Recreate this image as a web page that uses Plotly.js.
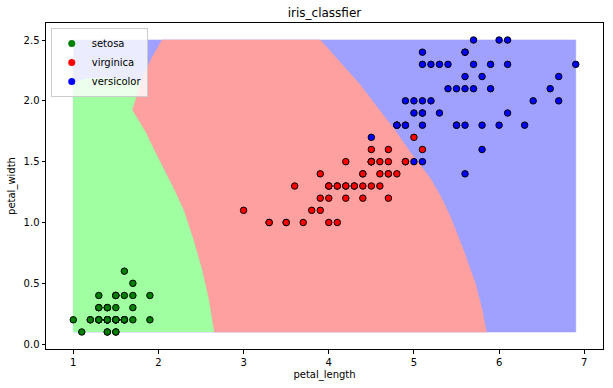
<!DOCTYPE html>
<html>
<head>
<meta charset="utf-8">
<script src="https://cdn.plot.ly/plotly-3.0.1.min.js"></script>
<style>html,body{margin:0;padding:0;background:#fff;}#chart{width:613px;height:388px;}</style>
</head>
<body>
<div id="chart"></div>
<script>
// ---- scatter data (petal_length, petal_width) ----
const setosaX = [1.4,1.4,1.3,1.5,1.4,1.7,1.4,1.5,1.4,1.5,1.5,1.6,1.4,1.1,1.2,1.5,1.3,1.4,1.7,1.5,1.7,1.5,1.0,1.7,1.9,1.6,1.6,1.5,1.4,1.6,1.6,1.5,1.5,1.4,1.5,1.2,1.3,1.4,1.3,1.5,1.3,1.3,1.3,1.6,1.9,1.4,1.6,1.4,1.5,1.4];
const setosaY = [0.2,0.2,0.2,0.2,0.2,0.4,0.3,0.2,0.2,0.1,0.2,0.2,0.1,0.1,0.2,0.4,0.4,0.3,0.3,0.3,0.2,0.4,0.2,0.5,0.2,0.2,0.4,0.2,0.2,0.2,0.2,0.4,0.1,0.2,0.2,0.2,0.2,0.1,0.2,0.2,0.3,0.3,0.2,0.6,0.4,0.3,0.2,0.2,0.2,0.2];
const virginicaX = [4.7,4.5,4.9,4.0,4.6,4.5,4.7,3.3,4.6,3.9,3.5,4.2,4.0,4.7,3.6,4.4,4.5,4.1,4.5,3.9,4.8,4.0,4.9,4.7,4.3,4.4,4.8,5.0,4.5,3.5,3.8,3.7,3.9,5.1,4.5,4.5,4.7,4.4,4.1,4.0,4.4,4.6,4.0,3.3,4.2,4.2,4.2,4.3,3.0,4.1];
const virginicaY = [1.4,1.5,1.5,1.3,1.5,1.3,1.6,1.0,1.3,1.4,1.0,1.5,1.0,1.4,1.3,1.4,1.5,1.0,1.5,1.1,1.8,1.3,1.5,1.2,1.3,1.4,1.4,1.7,1.5,1.0,1.1,1.0,1.2,1.6,1.5,1.6,1.5,1.3,1.3,1.3,1.2,1.4,1.2,1.0,1.3,1.2,1.3,1.3,1.1,1.3];
const versicolorX = [6.0,5.1,5.9,5.6,5.8,6.6,4.5,6.3,5.8,6.1,5.1,5.3,5.5,5.0,5.1,5.3,5.5,6.7,6.9,5.0,5.7,4.9,6.7,4.9,5.7,6.0,4.8,4.9,5.6,5.8,6.1,6.4,5.6,5.1,5.6,6.1,5.6,5.5,4.8,5.4,5.6,5.1,5.1,5.9,5.7,5.2,5.0,5.2,5.4,5.1];
const versicolorY = [2.5,1.9,2.1,1.8,2.2,2.1,1.7,1.8,1.8,2.5,2.0,1.9,2.1,2.0,2.4,2.3,1.8,2.2,2.3,1.5,2.3,2.0,2.0,1.8,2.1,1.8,1.8,1.8,2.1,1.6,1.9,2.0,2.2,1.5,1.4,2.3,2.4,1.8,1.8,2.1,2.4,2.3,1.9,2.3,2.5,2.3,1.9,2.0,2.3,1.8];

// ---- decision regions ----
const blueRegionX = [1.0, 6.9, 6.9, 1.0];
const blueRegionY = [0.1, 0.1, 2.5, 2.5];
const redRegionX = [2.04, 3.90, 4.13, 4.37, 4.565, 4.76, 4.955, 5.19, 5.31, 5.425, 5.58, 5.72, 5.80, 5.85, 2.65, 2.59, 2.51, 2.41, 2.295, 2.185, 2.08, 1.96, 1.845, 1.69, 1.79, 1.845, 1.94];
const redRegionY = [2.5, 2.5, 2.32, 2.13, 1.95, 1.775, 1.58, 1.364, 1.22, 1.05, 0.775, 0.50, 0.28, 0.1, 0.1, 0.364, 0.61, 0.857, 1.10, 1.268, 1.42, 1.58, 1.747, 1.925, 2.155, 2.24, 2.377];
const greenRegionX = [1.0, 1.0, 1.14, 1.376, 1.57, 1.75, 1.79, 1.69, 1.845, 1.96, 2.08, 2.185, 2.295, 2.41, 2.51, 2.59, 2.65];
const greenRegionY = [0.1, 2.145, 2.18, 2.19, 2.18, 2.16, 2.155, 1.925, 1.747, 1.58, 1.42, 1.268, 1.10, 0.857, 0.61, 0.364, 0.1];

const classNames = ['setosa', 'virginica', 'versicolor'];
const pointColors = ['green', 'red', 'blue'];
const regionColors = ['#A0FFA0', '#FFA0A0', '#A0A0FF'];

function region(x, y, c) {
  return {x: x, y: y, type: 'scatter', mode: 'lines', fill: 'toself', fillcolor: c,
          line: {color: c, width: 0.6}, hoverinfo: 'skip', showlegend: false};
}
function points(x, y, i) {
  return {x: x, y: y, type: 'scatter', mode: 'markers', name: classNames[i], showlegend: false,
          marker: {color: pointColors[i], size: 6.5, line: {color: 'black', width: 1}}};
}
function legendItem(i) {
  return {x: [null], y: [null], type: 'scatter', mode: 'markers', name: classNames[i],
          marker: {color: pointColors[i], size: 7}};
}

const data = [
  region(blueRegionX, blueRegionY, regionColors[2]),
  region(redRegionX, redRegionY, regionColors[1]),
  region(greenRegionX, greenRegionY, regionColors[0]),
  points(setosaX, setosaY, 0),
  points(virginicaX, virginicaY, 1),
  points(versicolorX, versicolorY, 2),
  legendItem(0), legendItem(1), legendItem(2)
];

const axisCommon = {
  showgrid: false, zeroline: false, showline: true, mirror: true,
  linecolor: '#000', linewidth: 1, ticks: 'outside', ticklen: 3.5, tickwidth: 1,
  tickcolor: '#000', tickfont: {size: 10, color: '#000'}
};

const layout = {
  width: 613, height: 388,
  margin: {l: 46, r: 10, t: 23, b: 39},
  paper_bgcolor: '#fff', plot_bgcolor: '#fff',
  font: {family: 'DejaVu Sans', size: 10, color: '#000'},
  title: {text: 'iris_classfier', font: {size: 12, color: '#000'}, x: 0.5293, xanchor: 'center', y: 0.966, yanchor: 'middle'},
  xaxis: Object.assign({}, axisCommon, {
    range: [0.68, 7.22], tickvals: [1,2,3,4,5,6,7],
    title: {text: 'petal_length', font: {size: 10}, standoff: 4}
  }),
  yaxis: Object.assign({}, axisCommon, {
    range: [-0.04, 2.64], tickvals: [0,0.5,1,1.5,2,2.5], tickformat: '.1f',
    title: {text: 'petal_width', font: {size: 10}, standoff: 6}
  }),
  legend: {x: 0.0085, y: 0.985, xanchor: 'left', yanchor: 'top',
           bgcolor: 'rgba(255,255,255,0.8)', bordercolor: '#cccccc', borderwidth: 1,
           font: {size: 10, color: '#000'}}
};

Plotly.newPlot('chart', data, layout, {displayModeBar: false, staticPlot: true});
</script>
</body>
</html>
